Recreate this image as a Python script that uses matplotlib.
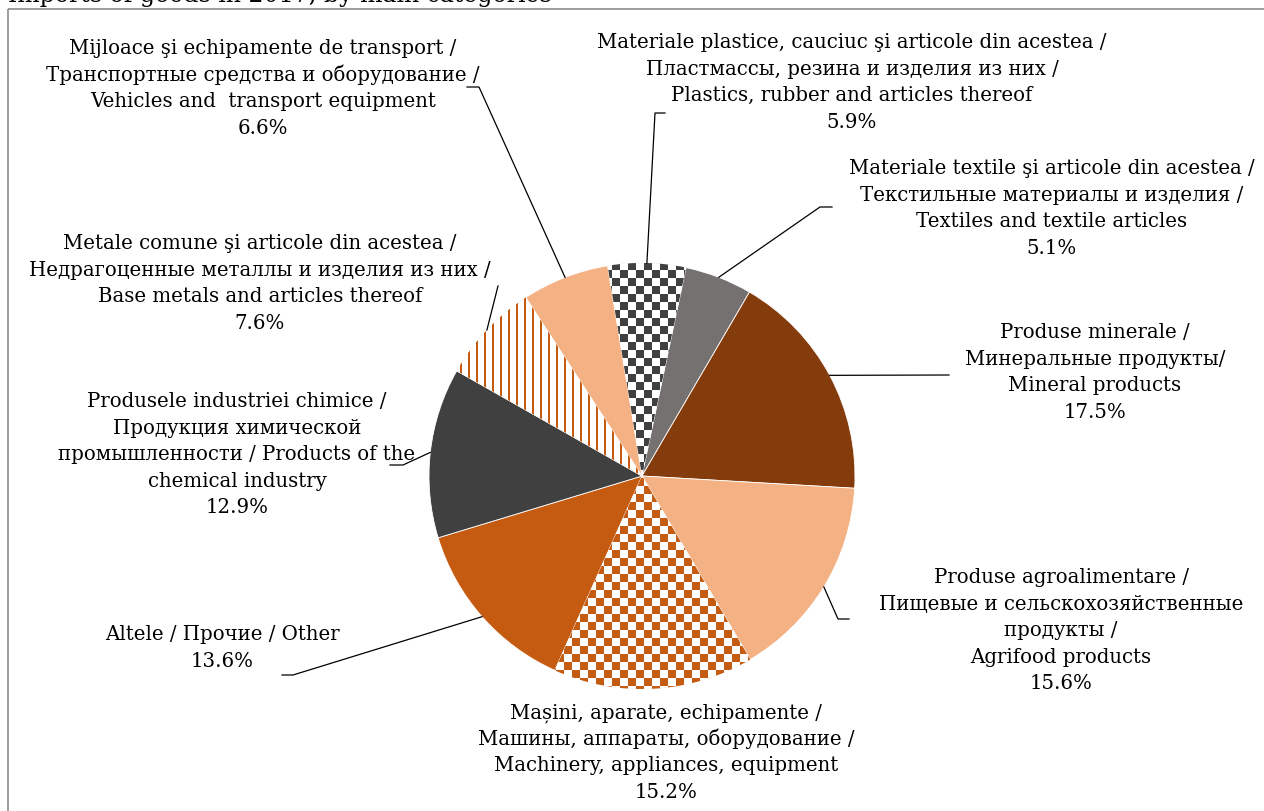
import numpy as np
import matplotlib
matplotlib.use("Agg")
import matplotlib.pyplot as plt
from matplotlib.colors import ListedColormap

# ---------------- data ----------------
categories = [
    "Plastics, rubber and articles thereof",
    "Textiles and textile articles",
    "Mineral products",
    "Agrifood products",
    "Machinery, appliances, equipment",
    "Other",
    "Products of the chemical industry",
    "Base metals and articles thereof",
    "Vehicles and transport equipment",
]
shares = [5.9, 5.1, 17.5, 15.6, 15.2, 13.6, 12.9, 7.6, 6.6]

label_texts = [
    ["Materiale plastice, cauciuc şi articole din acestea /",
     "Пластмассы, резина и изделия из них /",
     "Plastics, rubber and articles thereof"],
    ["Materiale textile şi articole din acestea /",
     "Текстильные материалы и изделия /",
     "Textiles and textile articles"],
    ["Produse minerale /",
     "Минеральные продукты/",
     "Mineral products"],
    ["Produse agroalimentare /",
     "Пищевые и сельскохозяйственные",
     "продукты /",
     "Agrifood products"],
    ["Mașini, aparate, echipamente /",
     "Машины, аппараты, оборудование /",
     "Machinery, appliances, equipment"],
    ["Altele / Прочие / Other"],
    ["Produsele industriei chimice /",
     "Продукция химической",
     "промышленности / Products of the",
     "chemical industry"],
    ["Metale comune şi articole din acestea /",
     "Недрагоценные металлы и изделия из них /",
     "Base metals and articles thereof"],
    ["Mijloace şi echipamente de transport /",
     "Транспортные средства и оборудование /",
     "Vehicles and  transport equipment"],
]
title = "Imports of goods in 2017, by main categories"

# ---------------- style ----------------
PEACH, GRAY, BROWN, ORANGE, DARK = "#F4B183", "#767171", "#843C0C", "#C55A11", "#404040"
fills = ["checker", None, None, None, "checker", None, None, "stripes", None]
colors = [DARK, GRAY, BROWN, PEACH, ORANGE, ORANGE, DARK, ORANGE, PEACH]

# label layout: center x, first line centre y (pixels, y down), elbow points
label_pos = [
    (852, 42), (1052, 168), (1095, 332), (1061, 577), (666, 712),
    (222, 634), (237, 401), (260, 243), (263, 48),
]
leader_start = [
    [(665, 114), (655, 114)],
    [(832, 208), (820, 208)],
    [(949, 376)],
    [(849, 620), (838, 620)],
    None,
    [(282, 676), (293, 676)],
    [(390, 466), (403, 466)],
    [(498, 287)],
    [(467, 88), (479, 88)],
]
LINE_STEP = 26.6
FS = 14.2
FONT = ["DejaVu Serif"]

W, H = 1264, 812
CX, CY, R = 642, 477, 213

fig = plt.figure(figsize=(W / 100, H / 100), dpi=100)
ax = fig.add_axes([0, 0, 1, 1])
ax.axis("off")

wedges, _ = ax.pie(shares, colors=colors, startangle=-99.3, counterclock=True,
                   center=(CX, CY), radius=R,
                   wedgeprops=dict(edgecolor="white", linewidth=0.6))

# pattern fills clipped to wedges
yy, xx = np.mgrid[0:2 * R + 2, 0:2 * R + 2]
extent = (CX - R - 1, CX + R + 1, CY + R + 1, CY - R - 1)
checker = ((xx // 8 + yy // 8) % 2).astype(float)
stripes = ((xx % 8) < 2).astype(float)
for w, f, c in zip(wedges, fills, colors):
    if f is None:
        continue
    pat = checker if f == "checker" else stripes
    im = ax.imshow(pat, extent=extent, cmap=ListedColormap(["white", c]),
                   interpolation="nearest", zorder=w.get_zorder() + 0.1, vmin=0, vmax=1)
    im.set_clip_path(w)

# labels and leader lines
for w, lines, share, (lx, ly), ls in zip(wedges, label_texts, shares, label_pos, leader_start):
    all_lines = lines + [f"{share:.1f}%"]
    for i, t in enumerate(all_lines):
        ax.text(lx, ly + i * LINE_STEP + 6, t, ha="center", va="baseline",
                fontsize=FS, family=FONT, color="black")
    if ls is not None:
        mid = np.deg2rad((w.theta1 + w.theta2) / 2)
        px, py = CX + R * np.cos(mid), CY + R * np.sin(mid)
        xs = [p[0] for p in ls] + [px]
        ys = [p[1] for p in ls] + [py]
        ax.plot(xs, ys, color="black", lw=0.9, zorder=5)

# frame and (cropped) title
ax.add_patch(plt.Rectangle((8, 10), 1400, 1000, fill=False, edgecolor="#8c8c8c", lw=1.2))
ax.text(8, 2, title, ha="left", va="baseline", fontsize=17, family=FONT, color="black")

ax.set_xlim(0, W)
ax.set_ylim(H, 0)
ax.set_aspect("auto")
fig.savefig("out.png", dpi=100)
